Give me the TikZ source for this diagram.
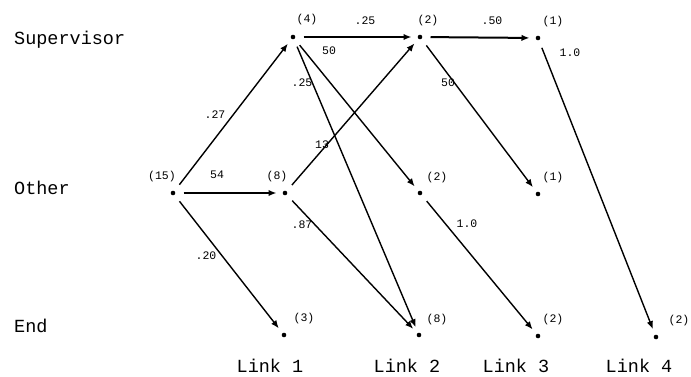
\documentclass[tikz,border=0pt]{standalone}
\usepackage{fontspec}
\setmainfont{Liberation Mono}
\usetikzlibrary{arrows.meta}
\begin{document}
\begin{tikzpicture}[x=1pt,y=-1pt,
  dot/.style={circle,fill=black,inner sep=0pt,minimum size=4.6pt},
  cnt/.style={font=\fontsize{11.5}{11.5}\selectfont,inner sep=0pt},
  prob/.style={font=\fontsize{11.5}{11.5}\selectfont,inner sep=0pt},
  rowlab/.style={font=\fontsize{18.5}{18.5}\selectfont,anchor=west,inner sep=0pt},
  collab/.style={font=\fontsize{18.5}{18.5}\selectfont,inner sep=0pt},
  flow/.style={line width=1.4pt,shorten <=8pt,shorten >=6pt,-{Latex[length=8pt,width=6.5pt]}},
  mainflow/.style={flow,line width=2pt}]
\useasboundingbox (0,0) rectangle (691,376);

% row and column headings
\node[rowlab] (rs) at (14,40) {Supervisor};
\node[rowlab] (ro) at (14,188) {Other};
\node[rowlab] (re) at (14,326) {End};
\node[collab] (l1) at (270,366) {Link 1};
\node[collab] (l2) at (407,366) {Link 2};
\node[collab] (l3) at (516,366) {Link 3};
\node[collab] (l4) at (639,366) {Link 4};

% states
\node[dot] (o0) at (173,193) {};
\node[dot] (s1) at (293,37) {};
\node[dot] (o1) at (285,193) {};
\node[dot] (e1) at (284,335) {};
\node[dot] (s2) at (420,37) {};
\node[dot] (o2) at (420,193) {};
\node[dot] (e2) at (419,335) {};
\node[dot] (s3) at (538,38) {};
\node[dot] (o3) at (538,194) {};
\node[dot] (e3) at (538,336) {};
\node[dot] (e4) at (656,337) {};

% counts
\node[cnt] (co0) at (162,177) {(15)};
\node[cnt] (cs1) at (307,20) {(4)};
\node[cnt] (co1) at (277,177) {(8)};
\node[cnt] (ce1) at (304,319) {(3)};
\node[cnt] (cs2) at (428,21) {(2)};
\node[cnt] (co2) at (437,178) {(2)};
\node[cnt] (ce2) at (437,320) {(8)};
\node[cnt] (cs3) at (553,22) {(1)};
\node[cnt] (co3) at (553,178) {(1)};
\node[cnt] (ce3) at (553,320) {(2)};
\node[cnt] (ce4) at (679,321) {(2)};

% transitions
\draw[flow] (o0) -- (s1);
\draw[mainflow] (o0) -- (o1);
\draw[flow] (o0) -- (e1);
\draw[mainflow] (s1) -- (s2);
\draw[flow] (s1) -- (o2);
\draw[flow] (s1) -- (e2);
\draw[flow] (o1) -- (s2);
\draw[flow] (o1) -- (e2);
\draw[mainflow] (s2) -- (s3);
\draw[flow] (s2) -- (o3);
\draw[flow] (s3) -- (e4);
\draw[flow] (o2) -- (e3);

% transition probabilities
\node[prob] (p1) at (215,115) {.27};
\node[prob] (p2) at (217,175) {54};
\node[prob] (p3) at (206,256) {.20};
\node[prob] (p4) at (365,21) {.25};
\node[prob] (p5) at (329,51) {50};
\node[prob] (p6) at (302,83) {.25};
\node[prob] (p7) at (322,145) {13};
\node[prob] (p8) at (302,225) {.87};
\node[prob] (p9) at (492,21) {.50};
\node[prob] (p10) at (448,83) {50};
\node[prob] (p11) at (570,53) {1.0};
\node[prob] (p12) at (467,224) {1.0};
\end{tikzpicture}
\end{document}
